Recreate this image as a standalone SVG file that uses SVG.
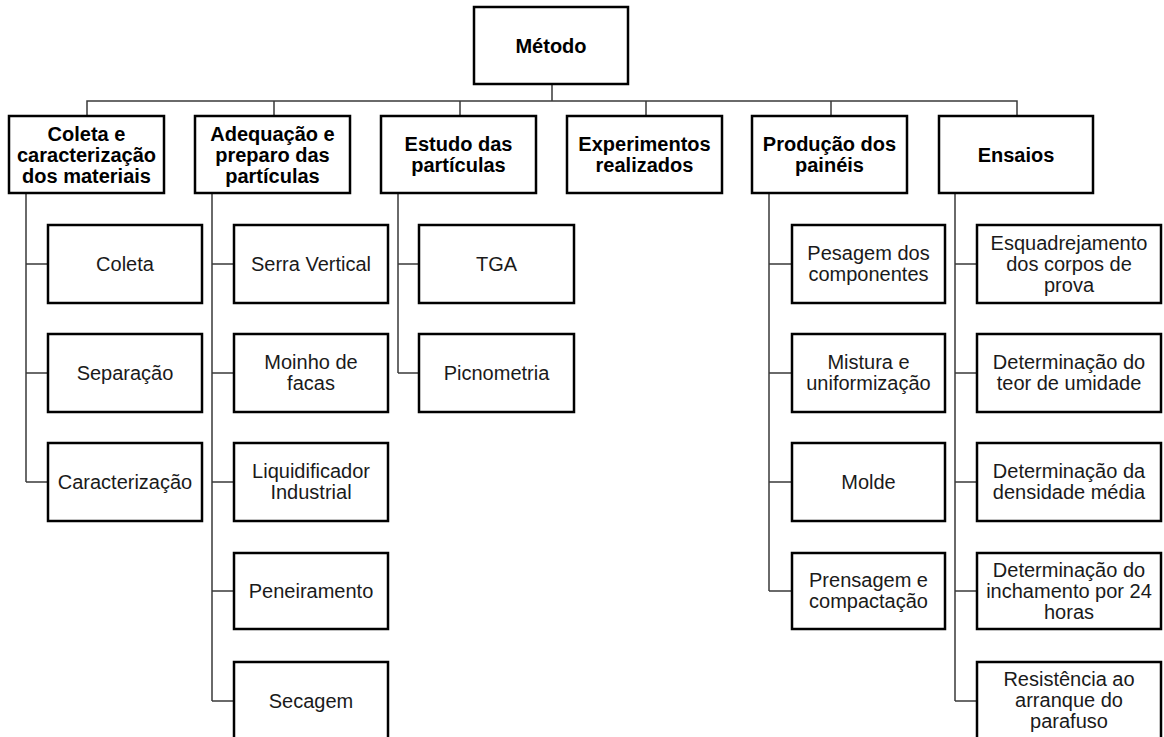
<svg xmlns="http://www.w3.org/2000/svg" width="1164" height="737" viewBox="0 0 1164 737">
<style>
.box{fill:#fff;stroke:#000;stroke-width:2.5}
.conn{fill:none;stroke:#3a3a3a;stroke-width:1.5}
.t{font-family:"Liberation Sans",Arial,sans-serif;font-size:20px;text-anchor:middle;fill:#1a1a1a}
.b{font-weight:bold;fill:#000}
</style>
<rect width="1164" height="737" fill="#fff"/>
<g id="connectors">
<path class="conn" d="M552 84V101M87 116V101H1017V116M274 101V116M460 101V116M646 101V116M831 101V116"/>
<path class="conn" d="M26 193V482M26 264H48M26 373H48M26 482H48"/>
<path class="conn" d="M212 193V701M212 264H234M212 373H234M212 482H234M212 591H234M212 701H234"/>
<path class="conn" d="M398 193V373M398 264H419M398 373H419"/>
<path class="conn" d="M769 193V591M769 264H792M769 373H792M769 482H792M769 591H792"/>
<path class="conn" d="M955 193V701M955 264H977M955 373H977M955 482H977M955 591H977M955 701H977"/>
</g>
<g id="metodo"><rect class="box" x="474" y="7" width="154" height="77"/><text class="t b" x="551" y="52.5">Método</text></g>
<g id="coleta-caracterizacao"><rect class="box" x="9" y="116" width="155" height="77"/><text class="t b" x="86.5" y="140.5">Coleta e</text><text class="t b" x="86.5" y="161.5">caracterização</text><text class="t b" x="86.5" y="182.5">dos materiais</text></g>
<g id="adequacao"><rect class="box" x="195" y="116" width="155" height="77"/><text class="t b" x="272.5" y="140.5">Adequação e</text><text class="t b" x="272.5" y="161.5">preparo das</text><text class="t b" x="272.5" y="182.5">partículas</text></g>
<g id="estudo"><rect class="box" x="381" y="116" width="155" height="77"/><text class="t b" x="458.5" y="151">Estudo das</text><text class="t b" x="458.5" y="172">partículas</text></g>
<g id="experimentos"><rect class="box" x="567" y="116" width="155" height="77"/><text class="t b" x="644.5" y="151">Experimentos</text><text class="t b" x="644.5" y="172">realizados</text></g>
<g id="producao"><rect class="box" x="752" y="116" width="155" height="77"/><text class="t b" x="829.5" y="151">Produção dos</text><text class="t b" x="829.5" y="172">painéis</text></g>
<g id="ensaios"><rect class="box" x="939" y="116" width="154" height="77"/><text class="t b" x="1016" y="161.5">Ensaios</text></g>

<g id="coleta"><rect class="box" x="48" y="225" width="154" height="78"/><text class="t" x="125" y="271">Coleta</text></g>
<g id="separacao"><rect class="box" x="48" y="334" width="154" height="78"/><text class="t" x="125" y="380">Separação</text></g>
<g id="caracterizacao"><rect class="box" x="48" y="443" width="154" height="78"/><text class="t" x="125" y="489">Caracterização</text></g>

<g id="serra"><rect class="box" x="234" y="225" width="154" height="78"/><text class="t" x="311" y="271">Serra Vertical</text></g>
<g id="moinho"><rect class="box" x="234" y="334" width="154" height="78"/><text class="t" x="311" y="369">Moinho de</text><text class="t" x="311" y="390">facas</text></g>
<g id="liquidificador"><rect class="box" x="234" y="443" width="154" height="78"/><text class="t" x="311" y="478">Liquidificador</text><text class="t" x="311" y="499">Industrial</text></g>
<g id="peneiramento"><rect class="box" x="234" y="553" width="154" height="76"/><text class="t" x="311" y="598">Peneiramento</text></g>
<g id="secagem"><rect class="box" x="234" y="662" width="154" height="80"/><text class="t" x="311" y="708">Secagem</text></g>

<g id="tga"><rect class="box" x="419" y="225" width="155" height="78"/><text class="t" x="496.5" y="271">TGA</text></g>
<g id="picnometria"><rect class="box" x="419" y="334" width="155" height="78"/><text class="t" x="496.5" y="380">Picnometria</text></g>

<g id="pesagem"><rect class="box" x="792" y="225" width="153" height="78"/><text class="t" x="868.5" y="260">Pesagem dos</text><text class="t" x="868.5" y="281">componentes</text></g>
<g id="mistura"><rect class="box" x="792" y="334" width="153" height="78"/><text class="t" x="868.5" y="369">Mistura e</text><text class="t" x="868.5" y="390">uniformização</text></g>
<g id="molde"><rect class="box" x="792" y="443" width="153" height="78"/><text class="t" x="868.5" y="489">Molde</text></g>
<g id="prensagem"><rect class="box" x="792" y="553" width="153" height="76"/><text class="t" x="868.5" y="587">Prensagem e</text><text class="t" x="868.5" y="608">compactação</text></g>

<g id="esquadrejamento"><rect class="box" x="977" y="225" width="184" height="78"/><text class="t" x="1069" y="250">Esquadrejamento</text><text class="t" x="1069" y="271">dos corpos de</text><text class="t" x="1069" y="292">prova</text></g>
<g id="umidade"><rect class="box" x="977" y="334" width="184" height="78"/><text class="t" x="1069" y="369">Determinação do</text><text class="t" x="1069" y="390">teor de umidade</text></g>
<g id="densidade"><rect class="box" x="977" y="443" width="184" height="78"/><text class="t" x="1069" y="478">Determinação da</text><text class="t" x="1069" y="499">densidade média</text></g>
<g id="inchamento"><rect class="box" x="977" y="553" width="184" height="76"/><text class="t" x="1069" y="577">Determinação do</text><text class="t" x="1069" y="598">inchamento por 24</text><text class="t" x="1069" y="619">horas</text></g>
<g id="arranque"><rect class="box" x="977" y="662" width="184" height="80"/><text class="t" x="1069" y="686">Resistência ao</text><text class="t" x="1069" y="707">arranque do</text><text class="t" x="1069" y="728">parafuso</text></g>
</svg>
